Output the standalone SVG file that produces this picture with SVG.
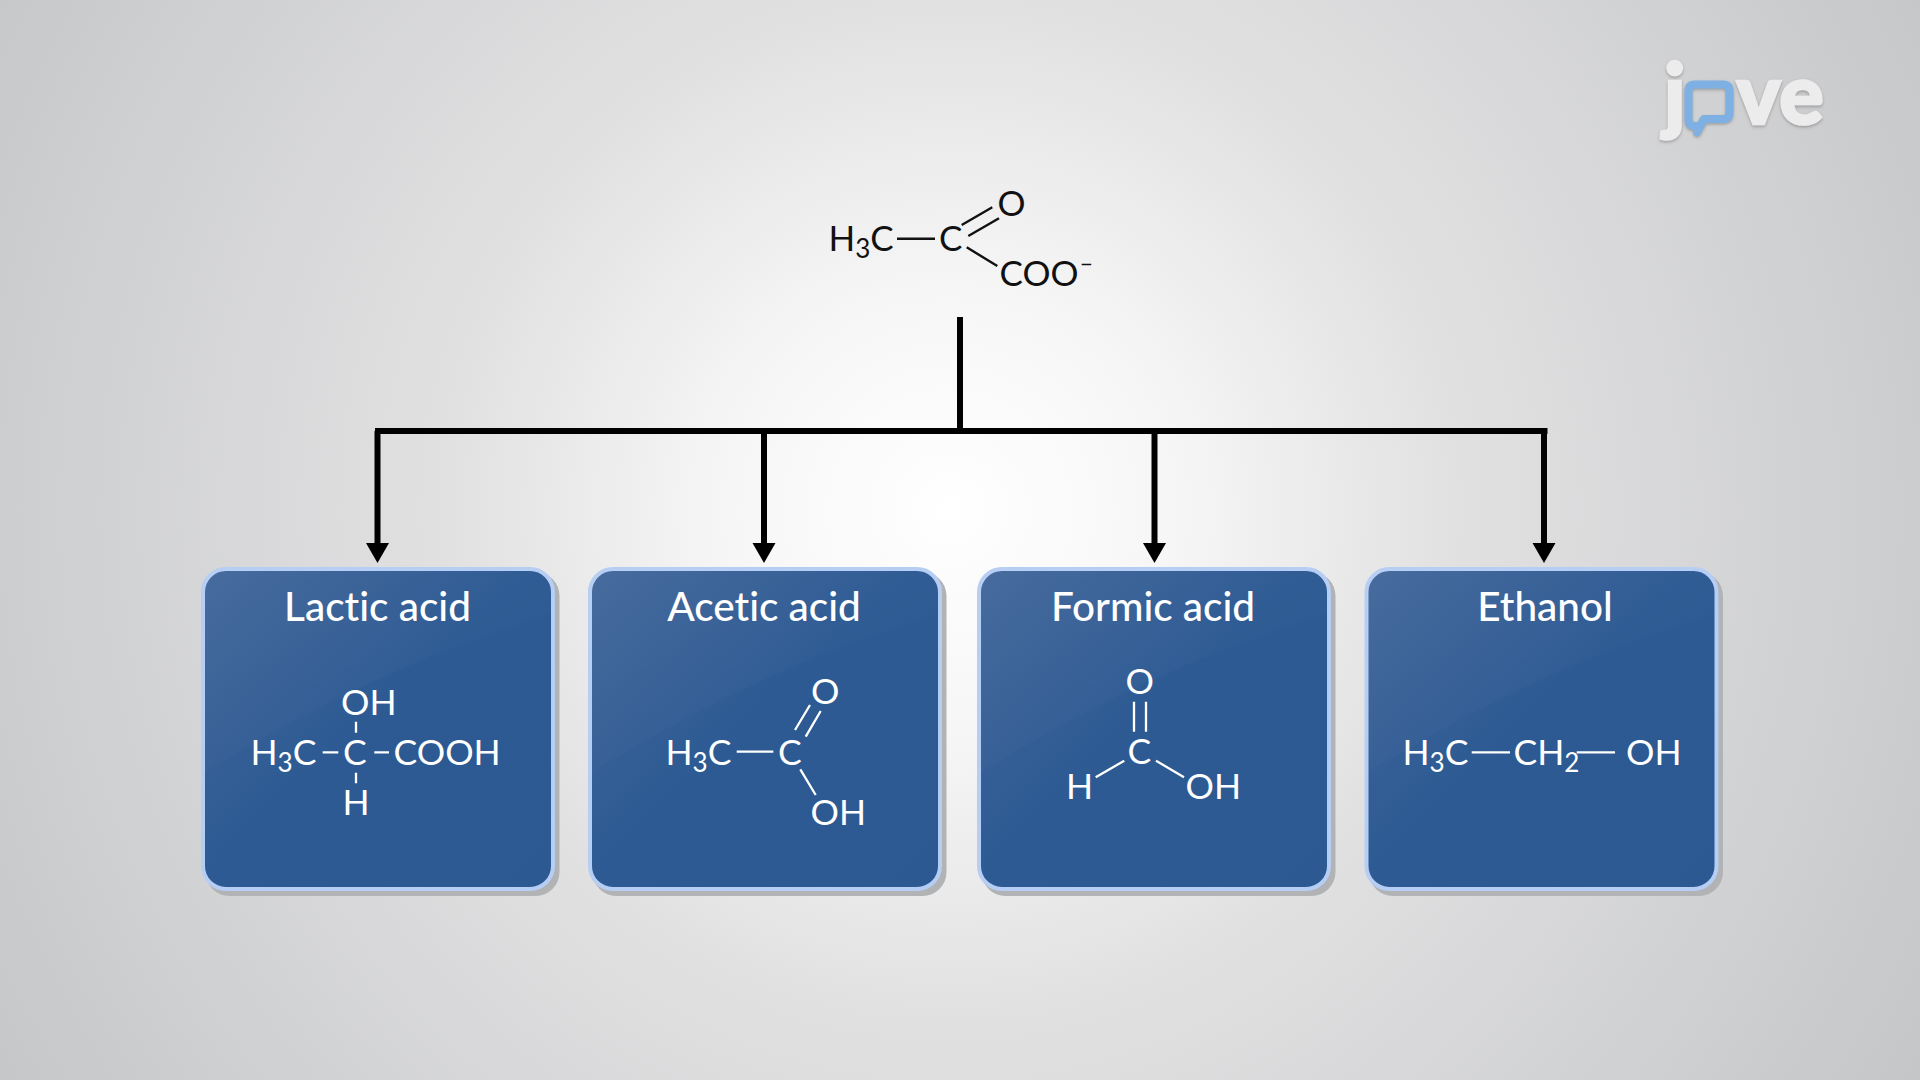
<svg xmlns="http://www.w3.org/2000/svg" width="1920" height="1080" viewBox="0 0 1920 1080">
<defs>
<radialGradient id="bg" gradientUnits="userSpaceOnUse" cx="950" cy="510" r="1120">
<stop offset="0" stop-color="#ffffff"/><stop offset="0.2" stop-color="#f6f6f6"/><stop offset="0.45" stop-color="#e1e1e2"/><stop offset="1" stop-color="#c5c6c8"/>
</radialGradient>
<linearGradient id="boxfill" x1="0" y1="0" x2="1" y2="0.9">
<stop offset="0" stop-color="#41669a"/><stop offset="0.5" stop-color="#2d5a93"/><stop offset="1" stop-color="#2c5992"/>
</linearGradient>
<linearGradient id="gloss" x1="0" y1="0" x2="0.75" y2="0.75">
<stop offset="0" stop-color="#ffffff" stop-opacity="0.035"/><stop offset="1" stop-color="#ffffff" stop-opacity="0.005"/>
</linearGradient>
<marker id="arrow" markerUnits="userSpaceOnUse" markerWidth="21" markerHeight="24" refX="0" refY="12" orient="auto">
<path d="M0 0.500L20 12L0 23.500Z" fill="#000"/>
</marker>
<filter id="soft" x="-10%" y="-10%" width="120%" height="120%"><feDropShadow dx="0" dy="1.500" stdDeviation="1.500" flood-color="#777" flood-opacity="0.6"/></filter>
<g id="box">
<rect x="4.500" y="5" width="354" height="324" rx="24" fill="#b2b3b5"/>
<rect x="2" y="2" width="350" height="320" rx="23" fill="url(#boxfill)" stroke="#b6cdf4" stroke-width="4"/>
<path d="M2 205C60 175 150 110 352 46V25Q352 2 329 2H25Q2 2 2 25Z" fill="url(#gloss)"/>
</g>
</defs>
<style>
.t{font-family:"Lato","Carlito","Liberation Sans",sans-serif;font-variant-ligatures:none}
.title{font-size:40.500px;font-weight:500;fill:#fff;text-anchor:middle}
.w{font-size:35.500px;fill:#fff}
.k{font-size:35px;fill:#111}
.sub{font-size:26px}
.bw{stroke:#fff;stroke-width:2.300;fill:none;stroke-linecap:butt}
.bk{stroke:#111;stroke-width:2.400;fill:none}
.conn{stroke:#000;stroke-width:6;fill:none}
.logo{font-family:"Lato",sans-serif;font-weight:900;font-size:83px;fill:#ececed;stroke:#ececed;stroke-width:2.500}
</style>
<rect id="background" width="1920" height="1080" fill="url(#bg)"/>

<g id="connectors">
<path class="conn" d="M375 431H1547.500"/>
<path class="conn" d="M960 317V434"/>
<path class="conn" d="M377.500 431V543" marker-end="url(#arrow)"/>
<path class="conn" d="M764 431V543" marker-end="url(#arrow)"/>
<path class="conn" d="M1154.500 431V543" marker-end="url(#arrow)"/>
<path class="conn" d="M1544 431V543" marker-end="url(#arrow)"/>
</g>

<g id="pyruvate">
<text class="t k" x="828.500" y="251">H<tspan class="sub" dy="7">3</tspan><tspan dy="-7">C</tspan></text>
<text class="t k" x="939" y="251">C</text>
<text class="t k" x="997.500" y="216">O</text>
<text class="t k" x="999.500" y="285.500">COO<tspan style="font-size:22px" dx="1.500" dy="-13.500">−</tspan></text>
<path class="bk" d="M897 238.700H935M961.700 225L992.300 207.300M968.300 236L999 218.300M966.700 247.300L997.300 266"/>
</g>

<g id="lactic-acid">
<use href="#box" x="201" y="567"/>
<text class="t title" x="377.500" y="620.500">Lactic acid</text>
<text class="t w" x="250.500" y="765">H<tspan class="sub" dy="7">3</tspan><tspan dy="-7">C</tspan></text>
<text class="t w" x="343" y="765">C</text>
<text class="t w" x="393.500" y="765">COOH</text>
<text class="t w" x="341" y="714.500">OH</text>
<text class="t w" x="342.500" y="815">H</text>
<path class="bw" d="M322.700 752.300H338.300M374.300 752.300H389M356 721.700V732.700M356 772.700V783.300"/>
</g>

<g id="acetic-acid">
<use href="#box" x="588" y="567"/>
<text class="t title" x="764" y="620.500">Acetic acid</text>
<text class="t w" x="665.500" y="764.500">H<tspan class="sub" dy="7">3</tspan><tspan dy="-7">C</tspan></text>
<text class="t w" x="778" y="764.500">C</text>
<text class="t w" x="811" y="703.500">O</text>
<text class="t w" x="810.500" y="824.500">OH</text>
<path class="bw" d="M736.700 751.700H773.300M795 730L810 705M805.700 736.700L820.700 711M800.300 769.300L815.700 795"/>
</g>

<g id="formic-acid">
<use href="#box" x="977" y="567"/>
<text class="t title" x="1153" y="620.500">Formic acid</text>
<text class="t w" x="1125.500" y="693.500">O</text>
<text class="t w" x="1127.500" y="763.500">C</text>
<text class="t w" x="1066" y="798.500">H</text>
<text class="t w" x="1185.500" y="798.500">OH</text>
<path class="bw" d="M1134 701.700V731.700M1146 701.700V731.700M1095.700 777.300L1124.300 760.700M1156 760.700L1184 777.300"/>
</g>

<g id="ethanol">
<use href="#box" x="1364.500" y="567"/>
<text class="t title" x="1545" y="620.500">Ethanol</text>
<text class="t w" x="1402.500" y="765">H<tspan class="sub" dy="7">3</tspan><tspan dy="-7">C</tspan></text>
<text class="t w" x="1513.500" y="765">CH<tspan class="sub" dy="7">2</tspan></text>
<text class="t w" x="1626" y="765">OH</text>
<path class="bw" d="M1471.700 752.300H1510M1576.700 752.300H1615"/>
</g>

<g id="logo" filter="url(#soft)">
<text class="logo" x="1664" y="124">j</text>
<path d="M1698 126H1695Q1688.500 126 1688.500 119V91Q1688.500 84.500 1695 84.500H1723Q1729.500 84.500 1729.500 91V112Q1729.500 119 1723 119H1704L1697 132Z" fill="none" stroke="#7eb0e3" stroke-width="8" stroke-linejoin="round"/>
<text class="logo" x="1736.500" y="124">ve</text>
</g>
</svg>
